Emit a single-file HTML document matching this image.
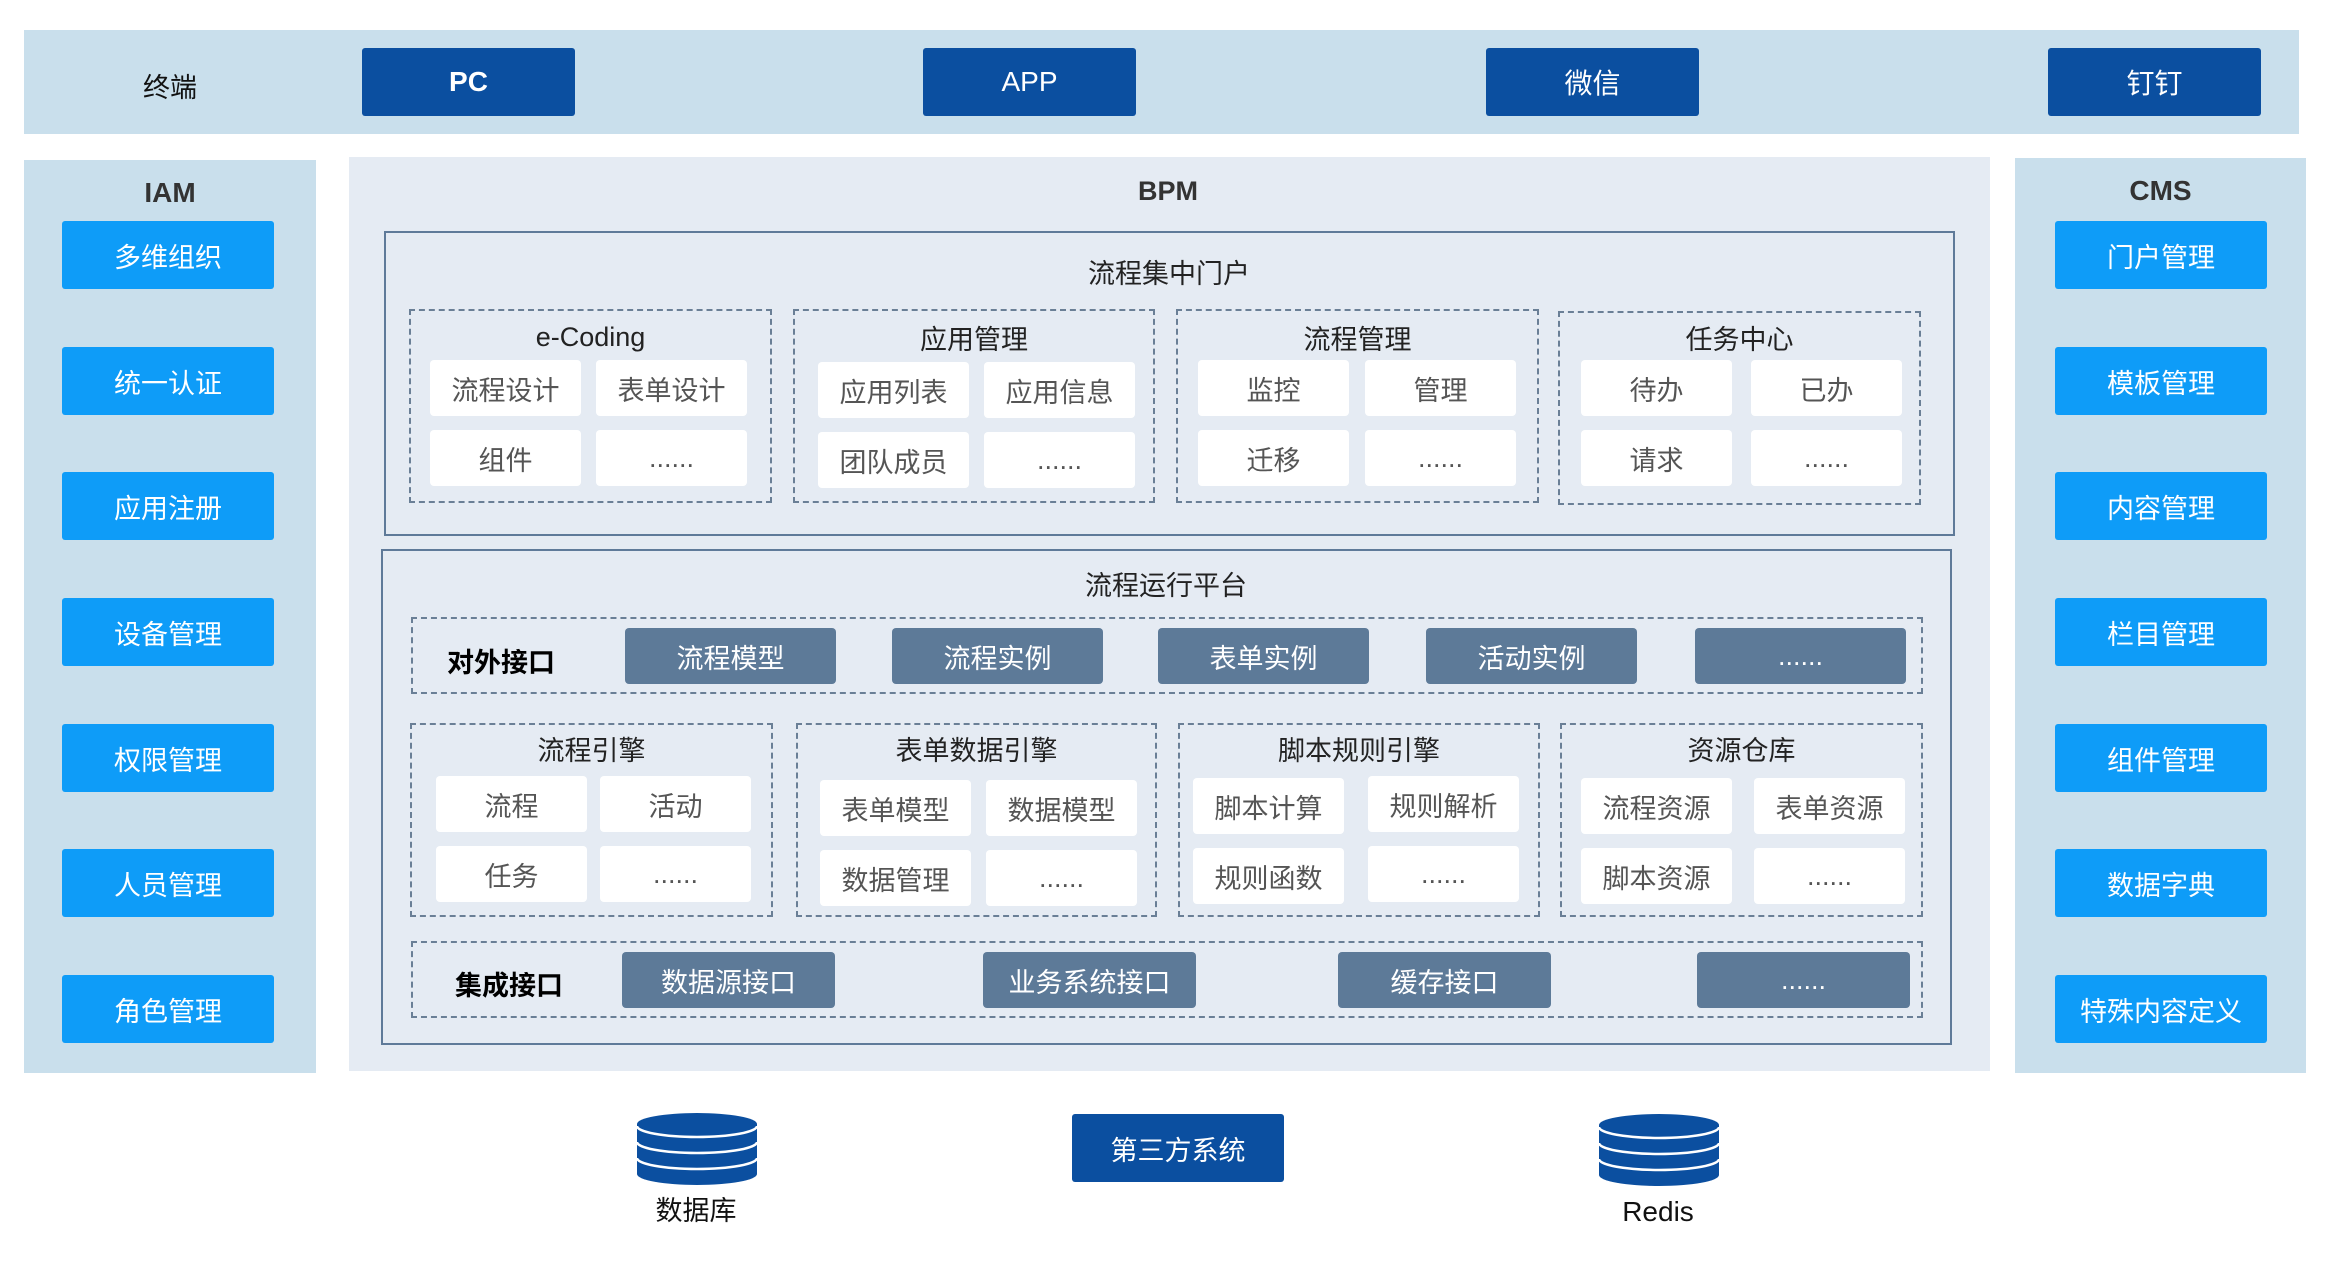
<!DOCTYPE html>
<html><head><meta charset="utf-8">
<style>
*{margin:0;padding:0;box-sizing:border-box}
body{width:2332px;height:1288px;background:#fff;position:relative;overflow:hidden;font-family:"Liberation Sans","Noto Sans CJK SC",sans-serif}
div{position:absolute}
.c{display:flex;align-items:center;justify-content:center;white-space:nowrap}
.dk{background:#0b4fa0;color:#fff;border-radius:3px;font-size:28px}
.bl{background:#0e9cf8;color:#fff;border-radius:3px;font-size:27px;width:212px;height:68px}
.sl{background:#5d7a98;color:#fff;border-radius:4px;font-size:27px;height:56px;width:211px}
.w{background:#fff;color:#555;border-radius:4px;font-size:27px;width:151px;height:56px}
.ds{border:2px dashed #6a7f96}
.t{font-size:27px;color:#222}
</style></head><body>
<div style="left:24px;top:30px;width:2275px;height:104px;background:#c9dfec"></div>
<div class="c t" style="left:120px;top:65px;width:100px;height:40px;color:#111">终端</div>
<div class="c dk" style="left:362px;top:48px;width:213px;height:68px;font-weight:bold">PC</div>
<div class="c dk" style="left:923px;top:48px;width:213px;height:68px">APP</div>
<div class="c dk" style="left:1486px;top:48px;width:213px;height:68px">微信</div>
<div class="c dk" style="left:2048px;top:48px;width:213px;height:68px">钉钉</div>

<div style="left:24px;top:160px;width:292px;height:913px;background:#c9dfec"></div>
<div class="c" style="left:24px;top:173px;width:292px;height:40px;font-size:28px;font-weight:bold;color:#333">IAM</div>
<div class="c bl" style="left:62px;top:221px">多维组织</div>
<div class="c bl" style="left:62px;top:347px">统一认证</div>
<div class="c bl" style="left:62px;top:472px">应用注册</div>
<div class="c bl" style="left:62px;top:598px">设备管理</div>
<div class="c bl" style="left:62px;top:724px">权限管理</div>
<div class="c bl" style="left:62px;top:849px">人员管理</div>
<div class="c bl" style="left:62px;top:975px">角色管理</div>

<div style="left:2015px;top:158px;width:291px;height:915px;background:#c9dfec"></div>
<div class="c" style="left:2015px;top:171px;width:291px;height:40px;font-size:28px;font-weight:bold;color:#333">CMS</div>
<div class="c bl" style="left:2055px;top:221px">门户管理</div>
<div class="c bl" style="left:2055px;top:347px">模板管理</div>
<div class="c bl" style="left:2055px;top:472px">内容管理</div>
<div class="c bl" style="left:2055px;top:598px">栏目管理</div>
<div class="c bl" style="left:2055px;top:724px">组件管理</div>
<div class="c bl" style="left:2055px;top:849px">数据字典</div>
<div class="c bl" style="left:2055px;top:975px">特殊内容定义</div>

<div style="left:349px;top:157px;width:1641px;height:914px;background:#e5ebf3"></div>
<div class="c" style="left:1068px;top:171px;width:200px;height:40px;font-size:27px;font-weight:bold;color:#333">BPM</div>

<div style="left:384px;top:231px;width:1571px;height:305px;border:2px solid #5f7a99"></div>
<div class="c t" style="left:969px;top:251px;width:400px;height:40px">流程集中门户</div>

<div class="ds" style="left:409px;top:309px;width:363px;height:194px"></div>
<div class="c t" style="left:409px;top:317px;width:363px;height:40px">e-Coding</div>
<div class="c w" style="left:430px;top:360px">流程设计</div>
<div class="c w" style="left:596px;top:360px">表单设计</div>
<div class="c w" style="left:430px;top:430px">组件</div>
<div class="c w" style="left:596px;top:430px">......</div>

<div class="ds" style="left:793px;top:309px;width:362px;height:194px"></div>
<div class="c t" style="left:793px;top:317px;width:362px;height:40px">应用管理</div>
<div class="c w" style="left:818px;top:362px">应用列表</div>
<div class="c w" style="left:984px;top:362px">应用信息</div>
<div class="c w" style="left:818px;top:432px">团队成员</div>
<div class="c w" style="left:984px;top:432px">......</div>

<div class="ds" style="left:1176px;top:309px;width:363px;height:194px"></div>
<div class="c t" style="left:1176px;top:317px;width:363px;height:40px">流程管理</div>
<div class="c w" style="left:1198px;top:360px">监控</div>
<div class="c w" style="left:1365px;top:360px">管理</div>
<div class="c w" style="left:1198px;top:430px">迁移</div>
<div class="c w" style="left:1365px;top:430px">......</div>

<div class="ds" style="left:1558px;top:311px;width:363px;height:194px"></div>
<div class="c t" style="left:1558px;top:317px;width:363px;height:40px">任务中心</div>
<div class="c w" style="left:1581px;top:360px">待办</div>
<div class="c w" style="left:1751px;top:360px">已办</div>
<div class="c w" style="left:1581px;top:430px">请求</div>
<div class="c w" style="left:1751px;top:430px">......</div>

<div style="left:381px;top:549px;width:1571px;height:496px;border:2px solid #5f7a99"></div>
<div class="c t" style="left:966px;top:563px;width:400px;height:40px">流程运行平台</div>

<div class="ds" style="left:411px;top:617px;width:1512px;height:77px"></div>
<div class="c t" style="left:447px;top:640px;width:120px;height:40px;color:#000;font-weight:bold;justify-content:flex-start">对外接口</div>
<div class="c sl" style="left:625px;top:628px">流程模型</div>
<div class="c sl" style="left:892px;top:628px">流程实例</div>
<div class="c sl" style="left:1158px;top:628px">表单实例</div>
<div class="c sl" style="left:1426px;top:628px">活动实例</div>
<div class="c sl" style="left:1695px;top:628px">......</div>

<div class="ds" style="left:410px;top:723px;width:363px;height:194px"></div>
<div class="c t" style="left:410px;top:728px;width:363px;height:40px">流程引擎</div>
<div class="c w" style="left:436px;top:776px">流程</div>
<div class="c w" style="left:600px;top:776px">活动</div>
<div class="c w" style="left:436px;top:846px">任务</div>
<div class="c w" style="left:600px;top:846px">......</div>

<div class="ds" style="left:796px;top:723px;width:361px;height:194px"></div>
<div class="c t" style="left:796px;top:728px;width:361px;height:40px">表单数据引擎</div>
<div class="c w" style="left:820px;top:780px">表单模型</div>
<div class="c w" style="left:986px;top:780px">数据模型</div>
<div class="c w" style="left:820px;top:850px">数据管理</div>
<div class="c w" style="left:986px;top:850px">......</div>

<div class="ds" style="left:1178px;top:723px;width:362px;height:194px"></div>
<div class="c t" style="left:1178px;top:728px;width:362px;height:40px">脚本规则引擎</div>
<div class="c w" style="left:1193px;top:778px">脚本计算</div>
<div class="c w" style="left:1368px;top:776px">规则解析</div>
<div class="c w" style="left:1193px;top:848px">规则函数</div>
<div class="c w" style="left:1368px;top:846px">......</div>

<div class="ds" style="left:1560px;top:723px;width:363px;height:194px"></div>
<div class="c t" style="left:1560px;top:728px;width:363px;height:40px">资源仓库</div>
<div class="c w" style="left:1581px;top:778px">流程资源</div>
<div class="c w" style="left:1754px;top:778px">表单资源</div>
<div class="c w" style="left:1581px;top:848px">脚本资源</div>
<div class="c w" style="left:1754px;top:848px">......</div>

<div class="ds" style="left:411px;top:941px;width:1512px;height:77px"></div>
<div class="c t" style="left:455px;top:963px;width:120px;height:40px;color:#000;font-weight:bold;justify-content:flex-start">集成接口</div>
<div class="c sl" style="left:622px;top:952px;width:213px">数据源接口</div>
<div class="c sl" style="left:983px;top:952px;width:213px">业务系统接口</div>
<div class="c sl" style="left:1338px;top:952px;width:213px">缓存接口</div>
<div class="c sl" style="left:1697px;top:952px;width:213px">......</div>

<svg style="position:absolute;left:635px;top:1112px" width="124" height="74" viewBox="0 0 124 74">
<path d="M2 12 A60 11 0 0 1 122 12 L122 62 A60 11 0 0 1 2 62 Z" fill="#0b4fa0"/>
<path d="M2 14 A60 11 0 0 0 122 14 M2 30 A60 11 0 0 0 122 30 M2 46 A60 11 0 0 0 122 46" fill="none" stroke="#fff" stroke-width="2.5"/>
</svg>
<div class="c" style="left:596px;top:1188px;width:200px;height:40px;font-size:27px;color:#111">数据库</div>
<div class="c dk" style="left:1072px;top:1114px;width:212px;height:68px;font-size:27px">第三方系统</div>
<svg style="position:absolute;left:1597px;top:1113px" width="124" height="74" viewBox="0 0 124 74">
<path d="M2 12 A60 11 0 0 1 122 12 L122 62 A60 11 0 0 1 2 62 Z" fill="#0b4fa0"/>
<path d="M2 14 A60 11 0 0 0 122 14 M2 30 A60 11 0 0 0 122 30 M2 46 A60 11 0 0 0 122 46" fill="none" stroke="#fff" stroke-width="2.5"/>
</svg>
<div class="c" style="left:1558px;top:1192px;width:200px;height:40px;font-size:28px;color:#111">Redis</div>
</body></html>
